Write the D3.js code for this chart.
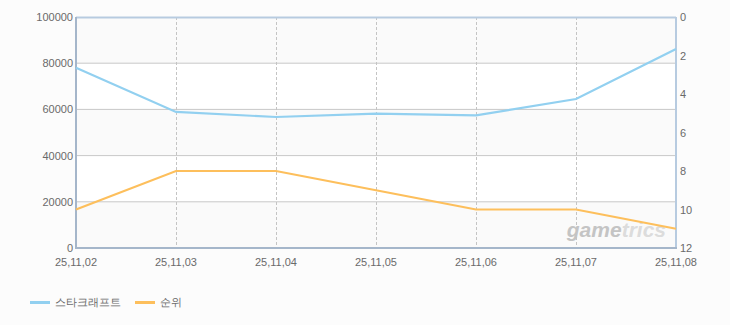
<!DOCTYPE html>
<html>
<head>
<meta charset="utf-8">
<script src="https://cdn.jsdelivr.net/npm/d3@7"></script>
<style>
  body { margin: 0; background: #fcfcfc; }
  text { font-family: "Liberation Sans", Arial, sans-serif; }
</style>
</head>
<body>
<div id="chart"></div>
<script>
const dates = ["25,11,02", "25,11,03", "25,11,04", "25,11,05", "25,11,06", "25,11,07", "25,11,08"];
const users = [78000, 58900, 56700, 58200, 57400, 64500, 86100];
const ranks = [10, 8, 8, 9, 10, 10, 11];
const leftTicks = [0, 20000, 40000, 60000, 80000, 100000];
const rightTicks = [0, 2, 4, 6, 8, 10, 12];
const seriesNames = ["스타크래프트", "순위"];
const colors = ["#92d0f0", "#fdbf5c"];

const W = 730, H = 325;
const m = { left: 76, right: 54, top: 17, bottom: 77 };
const iw = W - m.left - m.right, ih = H - m.top - m.bottom;

const svg = d3.select("#chart").append("svg")
  .attr("width", W).attr("height", H)
  .style("background", "#fcfcfc");

const x = d3.scalePoint().domain(dates).range([0, iw]);
const yL = d3.scaleLinear().domain([0, 100000]).range([ih, 0]);
const yR = d3.scaleLinear().domain([0, 12]).range([0, ih]);

const g = svg.append("g").attr("transform", `translate(${m.left},${m.top})`);

// alternating bands
g.selectAll(".band")
  .data(d3.pairs(leftTicks))
  .enter().append("rect")
  .attr("x", 0).attr("width", iw)
  .attr("y", d => yL(d[1]))
  .attr("height", d => yL(d[0]) - yL(d[1]))
  .attr("fill", (d, i) => i % 2 ? "#ffffff" : "#fafafa");

// horizontal grid
g.selectAll(".hgrid")
  .data(leftTicks.slice(1, -1))
  .enter().append("line")
  .attr("x1", 0).attr("x2", iw)
  .attr("y1", d => yL(d)).attr("y2", d => yL(d))
  .attr("stroke", "#c8c8c8").attr("stroke-width", 1);

// vertical dashed grid
g.selectAll(".vgrid")
  .data(dates.slice(1, -1))
  .enter().append("line")
  .attr("x1", d => x(d) + 0.5).attr("x2", d => x(d) + 0.5)
  .attr("y1", 0).attr("y2", ih)
  .attr("stroke", "#c4c4c4").attr("stroke-dasharray", "3,2");

// watermark
const wm = g.append("text")
  .attr("x", iw - 10).attr("y", ih - 11)
  .attr("text-anchor", "end")
  .attr("font-family", "DejaVu Sans, sans-serif")
  .attr("font-size", 21).attr("font-weight", "bold").attr("font-style", "italic");
wm.append("tspan").attr("fill", "#c4c4c4").text("game");
wm.append("tspan").attr("fill", "#dcdcdc").text("trics");

// frame
g.append("line").attr("x1", 0).attr("x2", iw).attr("y1", 0.5).attr("y2", 0.5)
  .attr("stroke", "#b7cbe0").attr("stroke-width", 2);
g.append("line").attr("x1", iw).attr("x2", iw).attr("y1", 0).attr("y2", ih)
  .attr("stroke", "#b7cbe0").attr("stroke-width", 2);
g.append("line").attr("x1", 0).attr("x2", 0).attr("y1", 0).attr("y2", ih + 1)
  .attr("stroke", "#a5b6ca").attr("stroke-width", 2);
g.append("line").attr("x1", 0).attr("x2", iw + 1).attr("y1", ih).attr("y2", ih)
  .attr("stroke", "#a5b6ca").attr("stroke-width", 2);

// lines
const lineL = d3.line().x((d, i) => x(dates[i])).y(d => yL(d));
const lineR = d3.line().x((d, i) => x(dates[i])).y(d => yR(d));
g.append("path").datum(users).attr("d", lineL)
  .attr("fill", "none").attr("stroke", colors[0]).attr("stroke-width", 2.2);
g.append("path").datum(ranks).attr("d", lineR)
  .attr("fill", "none").attr("stroke", colors[1]).attr("stroke-width", 2.2);

// axes labels
const tickStyle = sel => sel.attr("font-size", 11).attr("fill", "#6a6a6a");

g.selectAll(".lt").data(leftTicks).enter().append("text")
  .attr("x", -3).attr("y", d => yL(d) + 4)
  .attr("text-anchor", "end").call(tickStyle)
  .text(d => d);

g.selectAll(".rt").data(rightTicks).enter().append("text")
  .attr("x", iw + 4).attr("y", d => yR(d) + 4)
  .attr("text-anchor", "start").call(tickStyle)
  .text(d => d);

g.selectAll(".xt").data(dates).enter().append("text")
  .attr("x", d => x(d)).attr("y", ih + 18)
  .attr("text-anchor", "middle").call(tickStyle)
  .text(d => d);

// legend
const legend = svg.append("g").attr("transform", "translate(30,302)");
const items = legend.selectAll(".item").data(seriesNames).enter().append("g")
  .attr("transform", (d, i) => `translate(${i * 105},0)`);
items.append("rect").attr("x", 0).attr("y", -1).attr("width", 20).attr("height", 3)
  .attr("fill", (d, i) => colors[i]);
items.append("text").attr("x", 25).attr("y", 4)
  .attr("font-family", "Noto Sans CJK KR, sans-serif")
  .attr("font-size", 11).attr("fill", "#6a6a6a")
  .text(d => d);
</script>
</body>
</html>
